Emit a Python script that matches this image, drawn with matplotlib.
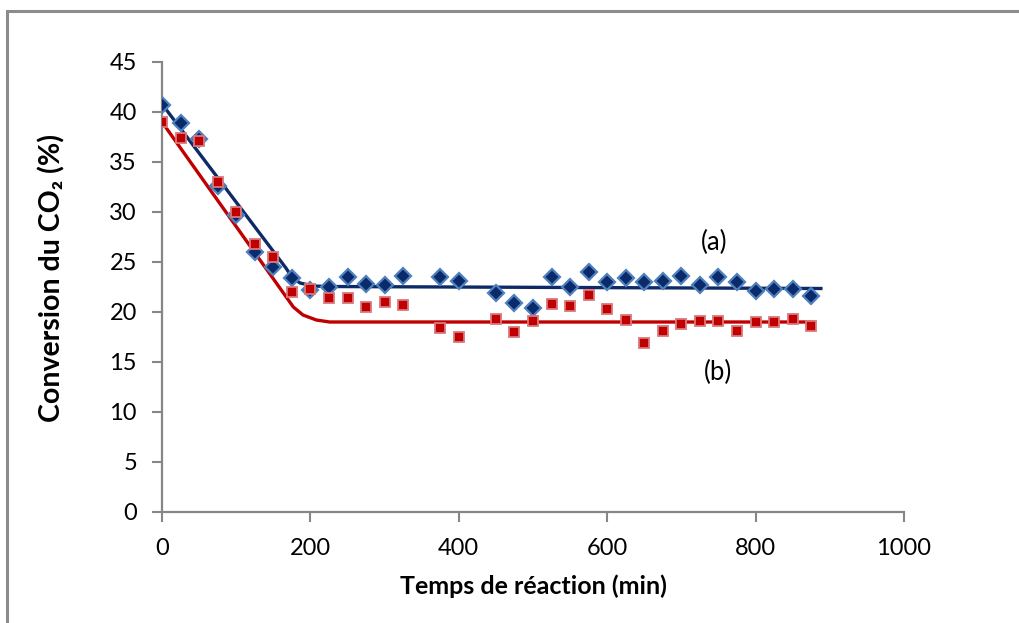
import matplotlib
matplotlib.use("Agg")
import matplotlib.pyplot as plt
from matplotlib.patches import Rectangle

# ---- data ----
time_a = [0, 25, 50, 75, 100, 125, 150, 175, 200, 225, 250, 275, 300, 325,
          375, 400, 450, 475, 500, 525, 550, 575, 600, 625, 650, 675, 700,
          725, 750, 775, 800, 825, 850, 875]
conv_a = [40.7, 38.9, 37.3, 32.6, 29.7, 26.0, 24.5, 23.4, 22.2, 22.5, 23.5,
          22.8, 22.7, 23.6, 23.5, 23.1, 21.9, 20.9, 20.4, 23.5, 22.5, 24.0,
          23.0, 23.4, 23.0, 23.1, 23.6, 22.7, 23.5, 23.0, 22.1, 22.3, 22.3,
          21.6]

time_b = [0, 25, 50, 75, 100, 125, 150, 175, 200, 225, 250, 275, 300, 325,
          375, 400, 450, 475, 500, 525, 550, 575, 600, 625, 650, 675, 700,
          725, 750, 775, 800, 825, 850, 875]
conv_b = [39.0, 37.4, 37.1, 33.0, 30.0, 26.8, 25.5, 22.0, 22.3, 21.4, 21.4,
          20.5, 21.0, 20.7, 18.4, 17.5, 19.3, 18.0, 19.1, 20.8, 20.6, 21.7,
          20.3, 19.2, 16.9, 18.1, 18.8, 19.1, 19.1, 18.1, 19.0, 19.0, 19.3,
          18.6]

# trend lines (vertices)
trend_a_t = [0, 167, 175, 186, 204, 222, 888]
trend_a_y = [40.8, 24.4, 23.5, 22.9, 22.6, 22.55, 22.35]
trend_b_t = [0, 177, 190, 208, 226, 877]
trend_b_y = [39.0, 20.5, 19.7, 19.2, 19.0, 19.0]

x_ticks = [0, 200, 400, 600, 800, 1000]
y_ticks = [0, 5, 10, 15, 20, 25, 30, 35, 40, 45]
x_label = "Temps de réaction (min)"
y_label = "Conversion du CO₂ (%)"

# ---- figure ----
plt.rcParams['font.family'] = ['Lato', 'DejaVu Sans']
W, H = 1019, 623
fig = plt.figure(figsize=(W / 100, H / 100), dpi=100)
ax = fig.add_axes([162 / W, 1 - 512 / H, (904 - 162) / W, (512 - 62) / H])

# outer chart-area border (top and left visible)
fig.patches.append(Rectangle((7 / W, -0.1), 1.2, 1 - 10.5 / H + 0.1,
                             transform=fig.transFigure, fill=False,
                             edgecolor='#8c8c8c', linewidth=2.2))

navy = '#0d2a66'
red = '#c00000'

ax.plot(trend_a_t, trend_a_y, color=navy, lw=2.4, zorder=2,
        solid_joinstyle='round')
ax.plot(trend_b_t, trend_b_y, color=red, lw=2.4, zorder=2,
        solid_joinstyle='round')

ax.plot(time_a, conv_a, linestyle='none', marker='D', markersize=8,
        markerfacecolor='#0b2a6b', markeredgecolor='#4f81bd',
        markeredgewidth=1.6, zorder=3)
ax.plot(time_b, conv_b, linestyle='none', marker='s', markersize=6.5,
        markerfacecolor='#c00000', markeredgecolor='#d9787c',
        markeredgewidth=1.3, zorder=3)

ax.text(744, 27.0, "(a)", fontsize=18.5, ha='center', va='center', color='black')
ax.text(749, 14.0, "(b)", fontsize=18.5, ha='center', va='center', color='black')

ax.set_xlim(0, 1000)
ax.set_ylim(0, 45)
ax.set_xticks(x_ticks)
ax.set_yticks(y_ticks)
ax.tick_params(axis='both', labelsize=17, color='#868686', width=1.5,
               length=7, direction='out')
ax.tick_params(axis='x', pad=12)
ax.tick_params(axis='y', pad=11)

for s in ['top', 'right']:
    ax.spines[s].set_visible(False)
for s in ['left', 'bottom']:
    ax.spines[s].set_color('#868686')
    ax.spines[s].set_linewidth(1.6)

ax.set_xlabel(x_label, fontsize=18, fontweight='bold', labelpad=11)
ax.set_ylabel(y_label, fontsize=20.5, fontweight='bold')
ax.yaxis.set_label_coords(52 / W, 0.553, transform=fig.transFigure)
ax.yaxis.label.set_va('center')

fig.savefig("out.png", dpi=100)
